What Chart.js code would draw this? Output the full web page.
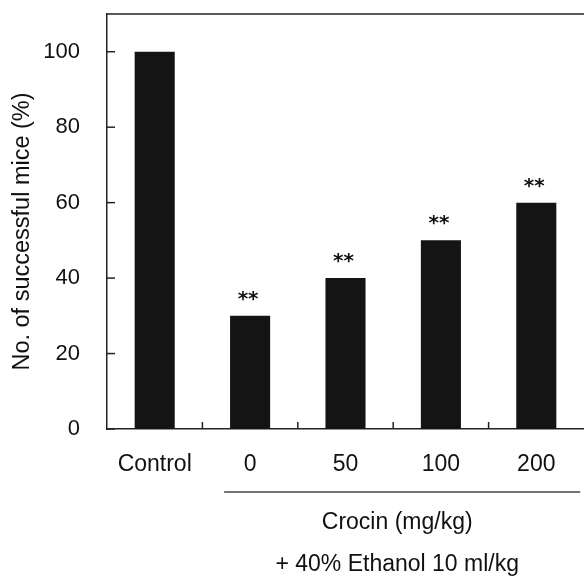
<!DOCTYPE html>
<html>
<head>
<meta charset="utf-8">
<script src="https://cdn.jsdelivr.net/npm/chart.js@4"></script>
<style>
  html, body { margin: 0; padding: 0; background: #fff; }
  #wrap { width: 584px; height: 576px; }
</style>
</head>
<body>
<div id="wrap"><canvas id="c" width="584" height="576"></canvas></div>
<script>
const categories = ['Control', '0', '50', '100', '200'];
const successRate = [100, 30, 40, 50, 60];
const significance = ['', '**', '**', '**', '**'];
const yTitle = 'No. of successful mice (%)';
const groupLabel = 'Crocin (mg/kg)';
const footLabel = '+ 40% Ethanol 10 ml/kg';

const AX = '#222';
const TXT = '#111';
const FONT = 'Liberation Sans, Arial, Helvetica, sans-serif';

const decor = {
  id: 'decor',
  afterDraw(chart) {
    const ctx = chart.ctx;
    const ca = chart.chartArea;
    const xs = chart.scales.x, ys = chart.scales.y;
    ctx.save();
    ctx.strokeStyle = AX;
    ctx.lineWidth = 1.5;
    // top frame line
    ctx.beginPath();
    ctx.moveTo(ca.left, ca.top);
    ctx.lineTo(ca.right, ca.top);
    ctx.stroke();
    // inward y ticks
    ys.ticks.forEach(t => {
      const y = ys.getPixelForValue(t.value);
      ctx.beginPath();
      ctx.moveTo(ca.left, y);
      ctx.lineTo(ca.left + 8, y);
      ctx.stroke();
    });
    // inward x ticks at category boundaries
    for (let i = 0; i < categories.length - 1; i++) {
      const x = (xs.getPixelForValue(i) + xs.getPixelForValue(i + 1)) / 2;
      ctx.beginPath();
      ctx.moveTo(x, ca.bottom);
      ctx.lineTo(x, ca.bottom - 7);
      ctx.stroke();
    }
    // significance stars
    const meta = chart.getDatasetMeta(0);
    ctx.fillStyle = TXT;
    ctx.font = 'bold 20px "DejaVu Sans"';
    ctx.textAlign = 'center';
    ctx.textBaseline = 'alphabetic';
    meta.data.forEach((bar, i) => {
      if (significance[i]) ctx.fillText(significance[i], bar.x - 2, bar.y - 11);
    });
    // group bracket line
    const x1 = xs.getPixelForValue(1), x4 = xs.getPixelForValue(4);
    ctx.beginPath();
    ctx.lineWidth = 1.5;
    ctx.strokeStyle = '#444';
    ctx.moveTo(x1 - 26, ca.bottom + 63);
    ctx.lineTo(x4 + 44, ca.bottom + 63);
    ctx.stroke();
    ctx.font = '23px ' + FONT;
    ctx.textBaseline = 'middle';
    const cx = (x1 + x4) / 2 + 4;
    ctx.fillText(groupLabel, cx, ca.bottom + 94);
    ctx.fillText(footLabel, cx, ca.bottom + 136);
    // y title
    ctx.save();
    ctx.translate(23, (ca.top + ca.bottom) / 2 + 10);
    ctx.rotate(-Math.PI / 2);
    ctx.font = '23.5px ' + FONT;
    ctx.fillText(yTitle, 0, 0);
    ctx.restore();
    ctx.restore();
  }
};

new Chart(document.getElementById('c'), {
  type: 'bar',
  data: {
    labels: categories,
    datasets: [{
      data: successRate,
      backgroundColor: '#141414',
      borderWidth: 0,
      categoryPercentage: 1.0,
      barPercentage: 0.42
    }]
  },
  options: {
    responsive: false,
    animation: false,
    devicePixelRatio: 1,
    layout: { autoPadding: false, padding: { top: 14, right: 0, bottom: 0, left: 0 } },
    plugins: { legend: { display: false }, title: { display: false }, tooltip: { enabled: false } },
    scales: {
      x: {
        grid: { display: false, drawTicks: false },
        border: { display: true, color: AX, width: 1.5 },
        ticks: { color: TXT, font: { family: FONT, size: 23, lineHeight: 1.2 }, padding: 22, maxRotation: 0, autoSkip: false },
        afterFit(s) { s.height = 147; s.paddingLeft = 0; s.paddingRight = 0; s.paddingTop = 0; s.paddingBottom = 0; }
      },
      y: {
        min: 0, max: 110,
        grid: { display: false, drawTicks: false },
        border: { display: true, color: AX, width: 1.5 },
        ticks: { stepSize: 20, includeBounds: false, color: TXT, font: { family: FONT, size: 22 }, padding: 27 },
        afterFit(s) { s.width = 107; s.paddingLeft = 0; s.paddingRight = 0; s.paddingTop = 0; s.paddingBottom = 0; }
      }
    }
  },
  plugins: [decor]
});
</script>
</body>
</html>
